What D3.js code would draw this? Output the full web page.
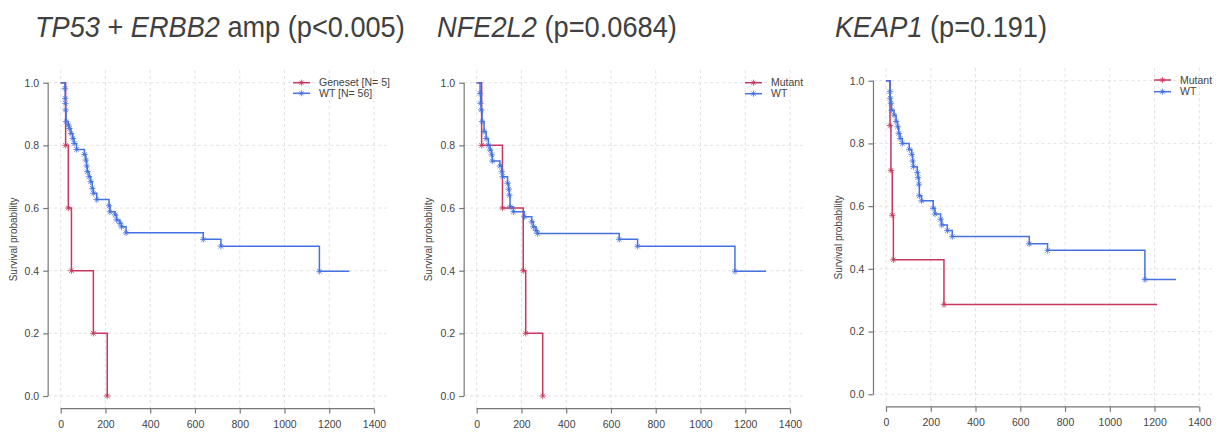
<!DOCTYPE html>
<html><head><meta charset="utf-8">
<script src="https://cdn.jsdelivr.net/npm/d3@7"></script>
<style>body{margin:0;background:#fff;} svg{display:block;font-family:"Liberation Sans",Arial,sans-serif;}</style>
</head><body>
<svg id="c" width="1220" height="435"></svg>
<script>
// ---- data ----
const xTicks = [0, 200, 400, 600, 800, 1000, 1200, 1400];
const yTicks = [0.0, 0.2, 0.4, 0.6, 0.8, 1.0];

// Panel 1: TP53 + ERBB2 amp
const p1GenesetTime = [0, 22, 34, 48, 146, 208];
const p1GenesetSurv = [1, 0.8, 0.6, 0.4, 0.2, 0.0];
const p1WtTime = [0, 19, 20, 21, 22, 24, 34, 39, 46, 54, 60, 71, 106, 112, 116, 119, 127, 134, 141, 146, 161, 216, 220, 243, 250, 265, 272, 292, 637, 716, 1156, 1290];
const p1WtSurv = [1, 0.982, 0.95, 0.934, 0.913, 0.876, 0.865, 0.854, 0.838, 0.822, 0.806, 0.787, 0.771, 0.753, 0.734, 0.716, 0.70, 0.684, 0.663, 0.647, 0.627, 0.607, 0.588, 0.578, 0.562, 0.551, 0.540, 0.521, 0.50, 0.478, 0.398, 0.398];

// Panel 2: NFE2L2
const p2MutTime = [0, 22, 115, 208, 219, 295];
const p2MutSurv = [1, 0.8, 0.6, 0.4, 0.2, 0.0];
const p2WtTime = [0, 15, 17, 20, 24, 33, 42, 52, 60, 67, 70, 104, 112, 116, 138, 143, 146, 149, 164, 213, 246, 253, 265, 272, 637, 719, 1154, 1293];
const p2WtSurv = [1, 0.966, 0.934, 0.913, 0.876, 0.844, 0.822, 0.80, 0.785, 0.77, 0.75, 0.734, 0.716, 0.70, 0.679, 0.66, 0.641, 0.604, 0.588, 0.572, 0.556, 0.540, 0.528, 0.519, 0.50, 0.478, 0.398, 0.398];

// Panel 3: KEAP1
const p3MutTime = [0, 18, 22, 28, 33, 259, 1212];
const p3MutSurv = [1, 0.857, 0.714, 0.571, 0.429, 0.286, 0.286];
const p3WtTime = [0, 18, 19, 22, 25, 36, 45, 52, 57, 63, 73, 104, 115, 119, 122, 140, 143, 147, 149, 159, 211, 219, 244, 249, 274, 296, 640, 722, 1157, 1296];
const p3WtSurv = [1, 0.965, 0.944, 0.928, 0.906, 0.89, 0.87, 0.853, 0.832, 0.816, 0.80, 0.781, 0.765, 0.744, 0.726, 0.707, 0.691, 0.67, 0.633, 0.617, 0.593, 0.575, 0.558, 0.54, 0.522, 0.503, 0.48, 0.459, 0.366, 0.366];

const RED = "#c8375e", BLUE = "#4571e2";

const panels = [
  {title: [["TP53", true], [" + ", false], ["ERBB2", true], [" amp (p<0.005)", false]], tx: 35, tw: 370,
   x0: 60.7, x1: 374, y0: 396, y1: 82.7, yl: 13,
   legX: 293, legY: [82.7, 93.3],
   series: [
     {name: "Geneset [N= 5]", t: p1GenesetTime, s: p1GenesetSurv, color: RED},
     {name: "WT [N= 56]", t: p1WtTime, s: p1WtSurv, color: BLUE}]},
  {title: [["NFE2L2", true], [" (p=0.0684)", false]], tx: 437, tw: 240,
   x0: 476.7, x1: 790, y0: 396, y1: 82.7, yl: 428,
   legX: 745, legY: [82.7, 93.7],
   series: [
     {name: "Mutant", t: p2MutTime, s: p2MutSurv, color: RED},
     {name: "WT", t: p2WtTime, s: p2WtSurv, color: BLUE}]},
  {title: [["KEAP1", true], [" (p=0.191)", false]], tx: 835, tw: 212,
   x0: 886, x1: 1199.3, y0: 394.3, y1: 80.7, yl: 838,
   legX: 1154, legY: [80, 91.7],
   series: [
     {name: "Mutant", t: p3MutTime, s: p3MutSurv, color: RED},
     {name: "WT", t: p3WtTime, s: p3WtSurv, color: BLUE}]}
];

const svg = d3.select("#c");

function star(g, x, y, color, r) {
  r = r || 3.2;
  const p = d3.path();
  for (let k = 0; k < 4; k++) {
    const a = k * Math.PI / 4;
    p.moveTo(x - r * Math.cos(a), y - r * Math.sin(a));
    p.lineTo(x + r * Math.cos(a), y + r * Math.sin(a));
  }
  g.append("path").attr("d", p.toString()).attr("stroke", color).attr("stroke-width", 1).attr("fill", "none").attr("opacity", 0.8);
}

panels.forEach(P => {
  const x = d3.scaleLinear().domain([0, 1400]).range([P.x0, P.x1]);
  const y = d3.scaleLinear().domain([0, 1]).range([P.y0, P.y1]);
  const left = x(-56), right = x(1456), top = y(1.04), bottom = y(-0.04);
  const g = svg.append("g");

  // title (horizontally condensed to match reference width)
  const tg = svg.append("g");
  const t = tg.append("text").attr("x", 0).attr("y", 37).attr("font-size", 29).attr("fill", "#404040");
  P.title.forEach(([s, it]) => t.append("tspan").text(s).attr("font-style", it ? "italic" : "normal"));
  const w = t.node().getComputedTextLength();
  tg.attr("transform", `translate(${P.tx},0) scale(${P.tw / w},1)`);

  // grid
  const grid = g.append("g").attr("stroke", "#d9d9d9").attr("stroke-dasharray", "3,3").attr("stroke-width", 0.8);
  xTicks.forEach(v => grid.append("line").attr("x1", x(v)).attr("x2", x(v)).attr("y1", top).attr("y2", bottom));
  yTicks.forEach(v => grid.append("line").attr("x1", left).attr("x2", right).attr("y1", y(v)).attr("y2", y(v)));

  // axes
  const xa = g.append("g").attr("transform", `translate(0,${bottom})`)
    .call(d3.axisBottom(x).tickValues(xTicks).tickSize(5).tickPadding(7).tickSizeOuter(0).tickFormat(d3.format("d")));
  const ya = g.append("g").attr("transform", `translate(${left},0)`)
    .call(d3.axisLeft(y).tickValues(yTicks).tickSize(5).tickPadding(4).tickSizeOuter(0).tickFormat(d3.format(".1f")));
  [xa, ya].forEach(a => {
    a.select(".domain").attr("stroke", "#777").attr("stroke-width", 1.2);
    a.selectAll(".tick line").attr("stroke", "#777").attr("stroke-width", 1.2);
    a.selectAll(".tick text").attr("fill", "#444").attr("font-size", 10.5).attr("font-family", "Liberation Sans, Arial, sans-serif");
  });
  xa.select(".domain").attr("d", `M${x(0)},0H${x(1400)}`);
  ya.select(".domain").attr("d", `M0,${y(0)}V${y(1)}`);

  // y label
  g.append("text").attr("transform", `translate(${P.yl},${(y(0)+y(1))/2}) rotate(-90)`)
    .attr("text-anchor", "middle").attr("dy", "0.35em").attr("font-size", 10).attr("fill", "#444").text("Survival probability");

  // curves
  const line = d3.line().curve(d3.curveStepAfter);
  P.series.forEach(S => {
    const pts = S.t.map((tt, i) => [x(tt), y(S.s[i])]);
    g.append("path").attr("d", line(pts)).attr("fill", "none").attr("stroke", S.color).attr("stroke-width", 1.5);
    S.t.forEach((tt, i) => { if (i > 0 && S.s[i] !== S.s[i-1]) star(g, x(tt), y(S.s[i]), S.color); });
  });

  // legend
  P.series.forEach((S, i) => {
    const ly = P.legY[i];
    g.append("line").attr("x1", P.legX).attr("x2", P.legX + 17).attr("y1", ly).attr("y2", ly).attr("stroke", S.color).attr("stroke-width", 1.5);
    star(g, P.legX + 8.5, ly, S.color, 3);
    g.append("text").attr("x", P.legX + 26).attr("y", ly).attr("dy", "0.35em").attr("font-size", 10.5).attr("fill", "#444").text(S.name);
  });
});
</script>
</body></html>
